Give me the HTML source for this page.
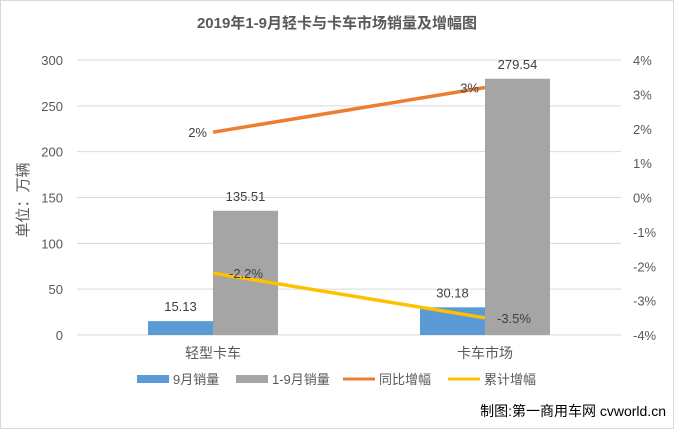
<!DOCTYPE html>
<html><head><meta charset="utf-8">
<style>
body{margin:0;background:#fff;}
svg text{font-family:"Liberation Sans","Noto Sans CJK SC",sans-serif;}
</style></head>
<body>
<svg id="c" width="674" height="429" xmlns="http://www.w3.org/2000/svg">
<rect x="0.5" y="0.5" width="673" height="428" fill="#fff" stroke="#d9d9d9"/>
<text x="337" y="28" text-anchor="middle" font-size="15" font-weight="bold" fill="#595959">2019年1-9月轻卡与卡车市场销量及增幅图</text>
<text transform="translate(28,200) rotate(-90)" text-anchor="middle" font-size="15" fill="#595959">单位：万辆</text>
<g id="grid"></g><g id="bars"></g><g id="lines"></g><g id="labels"></g>
<g>
<rect x="137" y="375" width="32" height="8" fill="#5b9bd5"/>
<text x="173" y="384" font-size="13" fill="#595959">9月销量</text>
<rect x="236" y="375" width="32" height="8" fill="#a5a5a5"/>
<text x="272" y="384" font-size="13" fill="#595959">1-9月销量</text>
<line x1="343" y1="379" x2="375" y2="379" stroke="#ed7d31" stroke-width="3"/>
<text x="379" y="384" font-size="13" fill="#595959">同比增幅</text>
<line x1="448" y1="379" x2="480" y2="379" stroke="#ffc000" stroke-width="3"/>
<text x="484" y="384" font-size="13" fill="#595959">累计增幅</text>
</g>
<text x="666" y="416" text-anchor="end" font-size="14" fill="#000">制图:第一商用车网 cvworld.cn</text>
</svg>
<script>
const categories=["轻型卡车","卡车市场"];
const monthly=[15.13,30.18];
const ytd=[135.51,279.54];
const yoy=[1.9,3.2];
const yoyLabels=["2%","3%"];
const cumulative=[-2.2,-3.5];
const cumLabels=["-2.2%","-3.5%"];
const leftTicks=[0,50,100,150,200,250,300];
const rightTicks=[-4,-3,-2,-1,0,1,2,3,4];
const NS="http://www.w3.org/2000/svg";
const x0=77,x1=621,yTop=60,yBot=335;
const yL=v=>yBot-(v/300)*(yBot-yTop);
const yR=v=>yBot-((v+4)/8)*(yBot-yTop);
const cw=(x1-x0)/categories.length;
const cx=i=>x0+cw*(i+0.5);
function mk(tag,attrs,parent,txt){const e=document.createElementNS(NS,tag);for(const k in attrs)e.setAttribute(k,attrs[k]);if(txt!==undefined)e.textContent=txt;document.getElementById(parent).appendChild(e);return e;}
leftTicks.forEach(t=>{
 const l=mk('line',{x1:x0,x2:x1,y1:yL(t),y2:yL(t),stroke:'#d9d9d9'},'grid');
 
 
 const tx=mk('text',{x:63,y:yL(t)+5,'text-anchor':'end','font-size':13,fill:'#595959'},'grid',t);
 
 
});
rightTicks.forEach(t=>{
 const tx=mk('text',{x:633,y:yR(t)+5,'font-size':13,fill:'#595959'},'grid',t+'%');
 
 
});
const bw=65;
categories.forEach((c,i)=>{
 const b1=mk('rect',{x:cx(i)-bw,y:yL(monthly[i]),width:bw,height:yBot-yL(monthly[i]),fill:'#5b9bd5'},'bars');
 
 
 const b2=mk('rect',{x:cx(i),y:yL(ytd[i]),width:bw,height:yBot-yL(ytd[i]),fill:'#a5a5a5'},'bars');
 
 
 const t1=mk('text',{x:cx(i)-bw/2,y:yL(monthly[i])-10,'text-anchor':'middle','font-size':13,fill:'#404040'},'labels',monthly[i].toFixed(2));
 
 
 const t2=mk('text',{x:cx(i)+bw/2,y:yL(ytd[i])-10,'text-anchor':'middle','font-size':13,fill:'#404040'},'labels',ytd[i].toFixed(2));
 
 
 const cl=mk('text',{x:cx(i),y:358,'text-anchor':'middle','font-size':14,fill:'#595959'},'labels',c);
 
 
});
const p1=mk('polyline',{points:yoy.map((v,i)=>cx(i)+','+yR(v)).join(' '),fill:'none',stroke:'#ed7d31','stroke-width':3.5},'lines');


const p2=mk('polyline',{points:cumulative.map((v,i)=>cx(i)+','+yR(v)).join(' '),fill:'none',stroke:'#ffc000','stroke-width':3.5},'lines');


yoy.forEach((v,i)=>{
 const t=mk('text',{x:cx(i)-6,y:yR(v)+5,'text-anchor':'end','font-size':13,fill:'#404040'},'labels',yoyLabels[i]);
 
 
});
cumulative.forEach((v,i)=>{
 const t=mk('text',{x:cx(i)+(i===0?16:12),y:yR(v)+5,'font-size':13,fill:'#404040'},'labels',cumLabels[i]);
 
 
});
</script>
</body></html>
